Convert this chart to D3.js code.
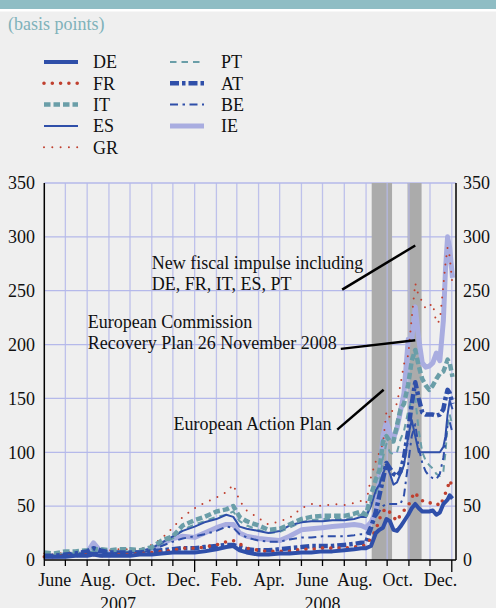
<!DOCTYPE html>
<html><head><meta charset="utf-8">
<script src="https://cdn.jsdelivr.net/npm/d3@7"></script>
<style>html,body{margin:0;padding:0;background:#efefef;} svg{display:block;}</style>
</head><body><svg id="c" width="496" height="608"></svg>
<script>
// ---- DATA ----
const dates = [
 "2007-06-01","2007-06-15","2007-07-01","2007-07-15","2007-08-01","2007-08-10","2007-08-20","2007-09-01","2007-09-15","2007-10-01","2007-10-15","2007-11-01","2007-11-15","2007-12-01","2007-12-15",
 "2008-01-01","2008-01-15","2008-02-01","2008-02-15","2008-02-25","2008-03-05","2008-03-15","2008-04-01","2008-04-15","2008-05-01","2008-05-15","2008-06-01","2008-06-15","2008-07-01","2008-07-15","2008-08-01","2008-08-15","2008-08-25",
 "2008-09-01","2008-09-08","2008-09-15","2008-09-20","2008-09-25","2008-09-30","2008-10-05","2008-10-10","2008-10-15","2008-10-20","2008-10-25","2008-10-31","2008-11-05",
 "2008-11-10","2008-11-15","2008-11-20","2008-11-25","2008-11-30","2008-12-05","2008-12-10","2008-12-15","2008-12-20","2008-12-23","2008-12-26","2008-12-29","2009-01-02"
];
const DE = [3,3,3,4,4,5,4,4,4,4,5,5,6,7,7,
 7,8,10,12,13,9,7,5,5,6,6,7,7,8,8,9,10,11,
 11,13,25,28,30,38,36,28,27,31,36,42,48,
 52,48,45,45,45,46,42,44,52,54,56,60,57];
const FR = [3,3,4,4,5,5,4,4,5,5,6,7,8,9,11,
 11,12,14,17,18,15,11,9,8,8,8,10,10,11,11,11,12,13,
 14,20,28,38,45,48,44,40,36,42,46,50,58,
 63,57,55,55,53,53,53,50,57,62,67,74,68];
const IT = [7,6,8,8,9,10,10,9,10,10,9,12,18,22,32,
 37,40,45,47,50,40,36,32,28,29,33,38,40,41,41,41,43,45,
 42,60,75,83,110,115,110,110,125,140,145,163,185,
 195,180,168,162,158,162,168,173,175,180,186,183,170];
const ES = [5,4,5,6,6,7,7,6,7,7,8,11,16,22,27,
 31,35,38,42,40,31,29,27,25,27,32,35,36,36,37,37,38,40,
 40,50,65,70,80,88,80,70,72,80,88,115,130,
 115,100,100,100,100,100,100,100,105,115,135,148,140];
const GR = [6,5,7,8,9,10,10,9,10,10,10,14,20,30,40,
 48,53,58,63,70,55,46,39,33,36,39,48,52,50,52,51,53,55,
 52,77,92,100,108,138,132,142,145,163,182,190,225,
 257,245,240,233,236,238,220,222,255,275,290,282,255];
const PT = [5,5,6,6,7,8,8,7,8,8,8,10,15,20,28,
 33,36,40,42,45,36,32,28,25,26,30,35,37,38,38,38,40,42,
 40,55,62,70,95,108,100,98,100,112,120,138,150,
 150,120,100,92,88,85,80,78,82,100,125,135,125];
const AT = [4,4,5,6,8,11,9,7,7,7,7,8,9,10,11,
 11,12,13,14,14,12,10,9,9,10,11,12,13,13,13,14,15,16,
 16,30,45,60,75,90,85,80,78,82,95,120,145,
 165,150,137,135,135,135,134,135,140,150,158,155,145];
const BE = [3,3,4,5,6,7,6,6,6,7,7,9,13,17,20,
 22,24,27,31,30,24,21,18,17,17,19,21,21,22,22,22,23,24,
 24,33,40,45,50,52,52,52,52,52,60,90,115,
 126,104,90,82,78,76,75,80,95,110,125,128,118];
const IE = [3,3,4,5,7,16,8,6,6,6,7,10,15,20,22,
 21,25,30,33,33,25,22,20,19,18,22,28,29,30,31,32,33,32,
 30,35,45,75,115,128,118,113,122,138,155,205,205,
 235,205,183,179,180,183,192,185,222,269,300,290,262];

const countries = ["DE","FR","IT","ES","GR","PT","AT","BE","IE"];
const seriesValues = {DE, FR, IT, ES, GR, PT, AT, BE, IE};
const yTicks = [0,50,100,150,200,250,300,350];
const monthLabels = ["June","Aug.","Oct.","Dec.","Feb.","Apr.","June","Aug.","Oct.","Dec."];
const monthLabelDates = ["2007-06-16","2007-08-16","2007-10-16","2007-12-16","2008-02-15","2008-04-16","2008-06-16","2008-08-16","2008-10-16","2008-12-16"];
const yearLabels = ["2007","2008"];
const yearLabelDates = ["2007-09-14","2008-07-01"];
const bands = [["2008-09-09","2008-10-08"],["2008-10-30","2008-11-19"]];
const annotations = [
 {lines:["New fiscal impulse including","DE, FR, IT, ES, PT"], tx:"2007-11-01", ty:270, from:["2008-07-29",251], to:["2008-11-10",292]},
 {lines:["European Commission","Recovery Plan 26 November 2008"], tx:"2007-08-02", ty:215, from:["2008-07-27",196], to:["2008-11-10",204]},
 {lines:["European Action Plan"], tx:"2007-12-02", ty:121, from:["2008-07-22",121], to:["2008-09-26",158]}
];

// ---- STYLES ----
const BLUE="#2f4fa9", RED="#c0402f", TEAL="#6a9ea8", LAV="#a9ade0";
const styles = {
 DE:{c:BLUE,w:4,d:null},
 FR:{c:RED,w:3.6,d:"0 8.3",cap:"round"},
 IT:{c:TEAL,w:4.5,d:"6.5 3"},
 ES:{c:BLUE,w:2,d:null},
 GR:{c:RED,w:2,d:"0 8.3",cap:"round"},
 PT:{c:TEAL,w:2,d:"6.5 5"},
 AT:{c:BLUE,w:4.5,d:"9 3 3.5 3"},
 BE:{c:BLUE,w:2,d:"8 4.5 2.5 4.5"},
 IE:{c:LAV,w:5,d:null}
};
const FONT = "'Liberation Serif','Times New Roman',serif";

const svg = d3.select("#c");
const parse = d3.timeParse("%Y-%m-%d");
const x = d3.scaleTime().domain([parse("2007-06-01"), parse("2009-01-07")]).range([44.3, 456]);
const y = d3.scaleLinear().domain([0,350]).range([560,183]);

// background
svg.append("rect").attr("width",496).attr("height",608).attr("fill","#efefef");
svg.append("rect").attr("width",496).attr("height",9).attr("fill","#8fbdc4");
svg.append("rect").attr("y",9).attr("width",496).attr("height",2.5).attr("fill","#ffffff");
svg.append("text").attr("x",8).attr("y",30).attr("font-family",FONT).attr("font-size",18)
  .attr("fill","#7fb2ba").text("(basis points)");

// legend
const legCols = [["DE","FR","IT","ES","GR"],["PT","AT","BE","IE"]];
legCols.forEach((col,ci)=>{
  col.forEach((k,ri)=>{
    const ly = 62 + ri*21.3;
    const lx = ci===0 ? 44 : 170;
    const s = styles[k];
    svg.append("line").attr("x1",lx).attr("x2",lx+34).attr("y1",ly).attr("y2",ly)
      .attr("stroke",s.c).attr("stroke-width",s.w).attr("stroke-dasharray",s.d)
      .attr("stroke-linecap",s.cap||"butt");
    svg.append("text").attr("x",ci===0?93:221).attr("y",ly+6.3).attr("font-family",FONT)
      .attr("font-size",18).attr("fill","#111").text(k);
  });
});

// horizontal grid
svg.append("g").selectAll("line").data(yTicks.filter(d=>d>0)).join("line")
  .attr("x1",44.3).attr("x2",456).attr("y1",d=>y(d)).attr("y2",d=>y(d))
  .attr("stroke","#b5b9ea").attr("stroke-width",1.3);

// bands
svg.append("g").selectAll("rect").data(bands).join("rect")
  .attr("x",d=>x(parse(d[0]))).attr("width",d=>x(parse(d[1]))-x(parse(d[0])))
  .attr("y",y(350)).attr("height",y(0)-y(350)).attr("fill","#ababab");

// vertical grid
const months = d3.timeMonth.range(parse("2007-07-01"), parse("2009-01-07"));
svg.append("g").selectAll("line").data(months).join("line")
  .attr("x1",d=>x(d)).attr("x2",d=>x(d)).attr("y1",y(350)).attr("y2",y(0))
  .attr("stroke","#b5b9ea").attr("stroke-opacity",0.85).attr("stroke-width",1.3);

// series
const pdates = dates.map(parse);
const line = d3.line().x((d,i)=>x(pdates[i])).y(d=>y(d));
const drawOrder = ["IE","GR","PT","BE","ES","IT","AT","FR","DE"];
drawOrder.forEach(k=>{
  const s = styles[k];
  svg.append("path").datum(seriesValues[k]).attr("d",line).attr("fill","none")
    .attr("stroke",s.c).attr("stroke-width",s.w).attr("stroke-dasharray",s.d)
    .attr("stroke-linecap",s.cap||"butt").attr("stroke-linejoin","round");
});

// axes lines
svg.append("line").attr("x1",44.3).attr("x2",44.3).attr("y1",y(350)).attr("y2",y(0)).attr("stroke","#000").attr("stroke-width",1.5);
svg.append("line").attr("x1",456).attr("x2",456).attr("y1",y(350)).attr("y2",y(0)).attr("stroke","#000").attr("stroke-width",1.5);
svg.append("line").attr("x1",44.3).attr("x2",456).attr("y1",y(0)).attr("y2",y(0)).attr("stroke","#000").attr("stroke-width",1.5);
const tickMonths = d3.timeMonth.range(parse("2007-06-01"), parse("2009-01-07"));
svg.append("g").selectAll("line").data(tickMonths).join("line")
  .attr("x1",d=>x(d)).attr("x2",d=>x(d)).attr("y1",y(0))
  .attr("y2",d=>y(0)+(d.getMonth()===0?12:6)).attr("stroke","#000").attr("stroke-width",1.3);

// y labels
svg.append("g").selectAll("text").data(yTicks).join("text")
  .attr("x",35).attr("y",d=>y(d)+6.3).attr("text-anchor","end")
  .attr("font-family",FONT).attr("font-size",18).attr("fill","#111").text(d=>d);
svg.append("g").selectAll("text").data(yTicks).join("text")
  .attr("x",463).attr("y",d=>y(d)+6.3).attr("text-anchor","start")
  .attr("font-family",FONT).attr("font-size",18).attr("fill","#111").text(d=>d);

// x labels
svg.append("g").selectAll("text").data(monthLabels).join("text")
  .attr("x",(d,i)=>x(parse(monthLabelDates[i]))).attr("y",586).attr("text-anchor","middle")
  .attr("font-family",FONT).attr("font-size",18).attr("fill","#111").text(d=>d);
svg.append("g").selectAll("text").data(yearLabels).join("text")
  .attr("x",(d,i)=>x(parse(yearLabelDates[i]))).attr("y",610).attr("text-anchor","middle")
  .attr("font-family",FONT).attr("font-size",18).attr("fill","#111").text(d=>d);

// annotations
annotations.forEach(a=>{
  svg.append("line").attr("x1",x(parse(a.from[0]))).attr("y1",y(a.from[1]))
    .attr("x2",x(parse(a.to[0]))).attr("y2",y(a.to[1])).attr("stroke","#000").attr("stroke-width",2.5);
  a.lines.forEach((t,i)=>{
    svg.append("text").attr("x",x(parse(a.tx))).attr("y",y(a.ty)+i*20.5)
      .attr("font-family",FONT).attr("font-size",18).attr("fill","#111").text(t);
  });
});
</script></body></html>
